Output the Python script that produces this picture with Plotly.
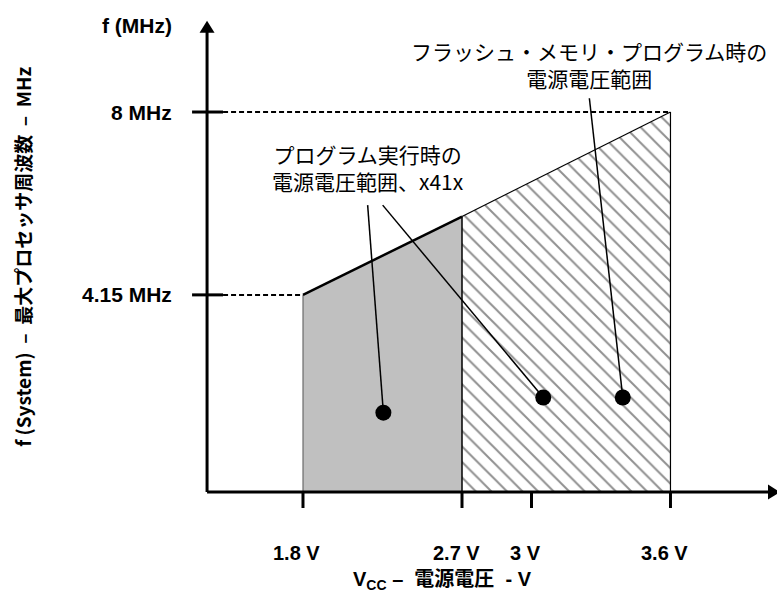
import numpy as np
import plotly.graph_objects as go

# values
volt_ticks = [1.8, 2.7, 3.0, 3.6]
volt_labels = ["1.8 V", "2.7 V", "3 V", "3.6 V"]
freq_ticks = [4.15, 8.0]
freq_labels = ["4.15 MHz", "8 MHz"]

# max system frequency envelope (MHz) at 1.8 / 2.7 / 3.6 V
env_volts = [1.8, 2.7, 3.6]
env_freq = [4.15, 5.8, 8.0]

run_range = [1.8, 2.7]     # supply range while executing (grey)
flash_range = [2.7, 3.6]   # supply range for flash programming (hatched)

label_flash = "フラッシュ・メモリ・プログラム時の<br>電源電圧範囲"
label_run = "プログラム実行時の<br>電源電圧範囲、x41x"
NB = "\u00a0"
ytitle = f"<b>f (System){NB*2}–{NB*2}最大プロセッサ周波数{NB*2}–{NB*2}MHz</b>"
xtitle = f"<b>V<sub>CC</sub> –{NB*2}電源電圧{NB*2}- V</b>"


# the voltage axis of the original drawing is not to scale
def vx(v):
    return np.interp(v, [1.8, 2.7, 3.6], [1.8, 2.7, 3.88])


def f_at(v):
    return np.interp(v, env_volts, env_freq)


AX_X = 1.257       # where the f axis sits (drawing units)
AX_TOP = 9.92      # tip of the f arrow (MHz)
AX_RIGHT = 4.5     # tip of the V arrow

SANS = "Liberation Sans, Arial, sans-serif"
JP = dict(family="Noto Sans CJK JP, sans-serif", size=21, color="black")

fig = go.Figure()

# grey region: program execution
r0, r1 = run_range
fig.add_trace(go.Scatter(x=vx([r0, r0, r1, r1]), y=[0, f_at(r0), f_at(r1), 0],
                         fill="toself", fillcolor="#c0c0c0", mode="lines",
                         line=dict(width=0), hoverinfo="skip"))

# hatched region: flash programming
h0, h1 = flash_range
fig.add_trace(go.Scatter(x=vx([h0, h0, h1, h1]), y=[0, f_at(h0), f_at(h1), 0],
                         fill="toself", mode="lines", line=dict(width=0),
                         fillpattern=dict(shape="\\", size=11, solidity=0.18,
                                          fgcolor="#222222", bgcolor="white"),
                         hoverinfo="skip"))

# outlines
fig.add_trace(go.Scatter(x=vx([r0, r0]), y=[0, f_at(r0)], mode="lines",
                         line=dict(color="#555555", width=1)))
fig.add_trace(go.Scatter(x=vx([r0, r1]), y=[f_at(r0), f_at(r1)], mode="lines",
                         line=dict(color="black", width=2.5)))
fig.add_trace(go.Scatter(x=vx([h0, h0]), y=[0, f_at(h0)], mode="lines",
                         line=dict(color="black", width=1.5)))
fig.add_trace(go.Scatter(x=vx([h0, h1]), y=[f_at(h0), f_at(h1)], mode="lines",
                         line=dict(color="black", width=1.2)))
fig.add_trace(go.Scatter(x=vx([h1, h1]), y=[0, f_at(h1)], mode="lines",
                         line=dict(color="black", width=1.2)))

# dashed guides from the f axis
for v, f in [(1.8, freq_ticks[0]), (3.6, freq_ticks[1])]:
    fig.add_trace(go.Scatter(x=[AX_X, vx(v)], y=[f, f], mode="lines",
                             line=dict(color="black", width=2, dash="5px,3px")))

# callout lines + dots (drawing units)
callouts = [((2.166, 6.04), (2.255, 1.67)),
            ((2.251, 6.04), (3.160, 1.99)),
            ((3.421, 8.29), (3.610, 1.99))]
for (x0, y0), (x1, y1) in callouts:
    fig.add_trace(go.Scatter(x=[x0, x1], y=[y0, y1], mode="lines",
                             line=dict(color="black", width=1.5)))
fig.add_trace(go.Scatter(x=[c[1][0] for c in callouts], y=[c[1][1] for c in callouts],
                         mode="markers", marker=dict(size=16, color="black")))

# axes
fig.add_shape(type="line", x0=AX_X, x1=AX_X, y0=0, y1=AX_TOP - 0.2,
              line=dict(color="black", width=3))
fig.add_shape(type="line", x0=AX_X, x1=AX_RIGHT - 0.05, y0=0, y1=0,
              line=dict(color="black", width=3))
fig.add_shape(type="path", xsizemode="pixel", ysizemode="pixel",
              xanchor=AX_X, yanchor=AX_TOP, path="M 0 0 L -7.5 -12 L 7.5 -12 Z",
              fillcolor="black", line=dict(width=0))
fig.add_shape(type="path", xsizemode="pixel", ysizemode="pixel",
              xanchor=AX_RIGHT, yanchor=0, path="M 0 0 L -12 7.5 L -12 -7.5 Z",
              fillcolor="black", line=dict(width=0))

for f, lab in zip(freq_ticks, freq_labels):
    fig.add_shape(type="line", xsizemode="pixel", xanchor=AX_X, x0=-15, x1=16,
                  y0=f, y1=f, line=dict(color="black", width=3))
    fig.add_annotation(x=AX_X, y=f, text=f"<b>{lab}</b>", showarrow=False,
                       xanchor="right", xshift=-33,
                       font=dict(family=SANS, size=21, color="black"))

for v, lab in zip(volt_ticks, volt_labels):
    fig.add_shape(type="line", ysizemode="pixel", yanchor=0, y0=0, y1=-16,
                  x0=vx(v), x1=vx(v), line=dict(color="black", width=3))
    fig.add_annotation(x=vx(v), y=0, text=f"<b>{lab}</b>", showarrow=False,
                       xanchor="center", xshift=-6, yshift=-61,
                       font=dict(family=SANS, size=20, color="black"))

fig.add_annotation(x=AX_X, y=AX_TOP, text="<b>f (MHz)</b>", showarrow=False,
                   xanchor="right", xshift=-33, yshift=-5,
                   font=dict(family=SANS, size=21, color="black"))

fig.add_annotation(x=0.758, y=0.891, xref="paper", yref="paper", text=label_flash,
                   showarrow=False, font=JP, align="center",
                   xanchor="center", yanchor="middle")
fig.add_annotation(x=0.4736, y=0.7166, xref="paper", yref="paper", text=label_run,
                   showarrow=False, font=JP, align="center",
                   xanchor="center", yanchor="middle")
fig.add_annotation(x=0.028, y=0.565, xref="paper", yref="paper", text=ytitle,
                   textangle=-90, showarrow=False, xanchor="center", yanchor="middle",
                   font=dict(family="Noto Sans CJK JP, sans-serif", size=19, color="black"))
fig.add_annotation(x=0.570, y=0.018, xref="paper", yref="paper", text=xtitle,
                   showarrow=False, xanchor="center", yanchor="middle",
                   font=dict(family="Liberation Sans, Noto Sans CJK JP, sans-serif",
                             size=20, color="black"))

fig.update_xaxes(visible=False, range=[0.085, 4.483])
fig.update_yaxes(visible=False, range=[-2.084, 10.358])
fig.update_layout(width=777, height=591, margin=dict(l=0, r=0, t=0, b=0),
                  showlegend=False, plot_bgcolor="white", paper_bgcolor="white")

fig.write_html("out.html", config={"displayModeBar": False},
               post_script="document.body.style.margin='0px';")
